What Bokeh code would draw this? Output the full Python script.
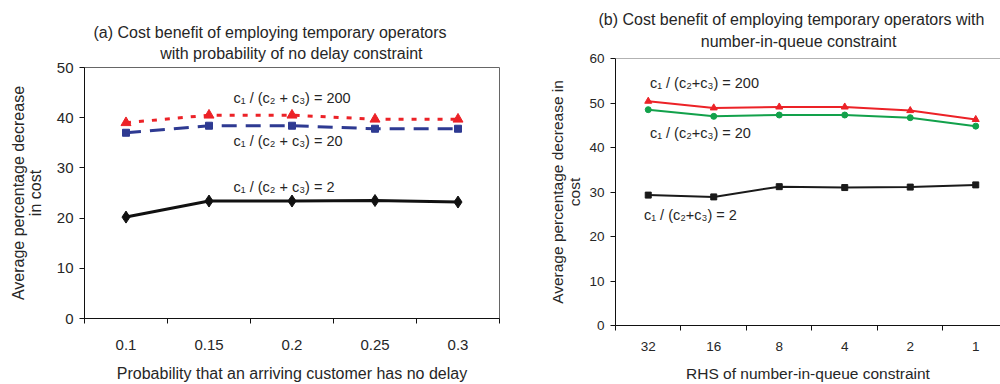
from bokeh.plotting import figure
from bokeh.models import FixedTicker, Range1d, Title, Span
from bokeh.layouts import row, column
from bokeh.core.properties import value
from bokeh.embed import file_html
from bokeh.resources import INLINE

FONT = "Liberation Sans"
TEXT = "#262626"
NBSP = "\u00a0"

# (a) probability of no delay constraint
prob_levels = ["0.1", "0.15", "0.2", "0.25", "0.3"]
a_ratio_200 = [39.0, 40.5, 40.5, 39.7, 39.7]
a_ratio_20 = [37.0, 38.4, 38.4, 37.8, 37.8]
a_ratio_2 = [20.2, 23.4, 23.4, 23.5, 23.2]
a_yticks = [0, 10, 20, 30, 40, 50]

# (b) number-in-queue constraint
rhs_levels = ["32", "16", "8", "4", "2", "1"]
b_ratio_200 = [50.4, 48.9, 49.1, 49.1, 48.3, 46.3]
b_ratio_20 = [48.5, 47.0, 47.3, 47.3, 46.7, 44.8]
b_ratio_2 = [29.3, 28.9, 31.2, 31.0, 31.1, 31.6]
b_yticks = [0, 10, 20, 30, 40, 50, 60]

RATIO_200 = "c\u2081 / (c\u2082 + c\u2083) = 200"
RATIO_20 = "c\u2081 / (c\u2082 + c\u2083) = 20"
RATIO_2 = "c\u2081 / (c\u2082 + c\u2083) = 2"
RATIO_200_B = "c\u2081 / (c\u2082+c\u2083) = 200"
RATIO_20_B = "c\u2081 / (c\u2082+c\u2083) = 20"
RATIO_2_B = "c\u2081 / (c\u2082+c\u2083) = 2"

TITLE_A = ("(a) Cost benefit of employing temporary operators\n"
           + NBSP * 15 + "with probability of no delay constraint")
TITLE_B = ("(b) Cost benefit of employing temporary operators with\n"
           + NBSP * 23 + "number-in-queue constraint")


def centers(levels):
    return [i + 0.5 for i in range(len(levels))]


def style_axes(p, levels, yticks, tick_size, label_size, x_label, y_label,
               x_standoff, x_label_standoff, y_label_standoff):
    xs = centers(levels)
    p.xaxis.ticker = FixedTicker(ticks=xs, minor_ticks=list(range(len(levels) + 1)))
    p.xaxis.major_label_overrides = {x: lab for x, lab in zip(xs, levels)}
    p.xaxis.major_tick_out = 0
    p.xaxis.major_tick_in = 0
    p.xaxis.minor_tick_out = 5
    p.xaxis.minor_tick_in = 0
    p.xaxis.major_label_standoff = x_standoff
    p.yaxis.ticker = FixedTicker(ticks=yticks, minor_ticks=[])
    p.yaxis.major_tick_out = 5
    p.yaxis.major_tick_in = 0
    p.yaxis.minor_tick_out = 0
    p.yaxis.major_label_standoff = 6
    for ax in (p.xaxis, p.yaxis):
        ax.axis_line_color = "#111111"
        ax.major_tick_line_color = "#111111"
        ax.minor_tick_line_color = "#111111"
        ax.major_label_text_font = FONT
        ax.major_label_text_font_size = tick_size
        ax.major_label_text_color = TEXT
        ax.axis_label_text_font = FONT
        ax.axis_label_text_font_style = "normal"
        ax.axis_label_text_font_size = label_size
        ax.axis_label_text_color = TEXT
    p.xaxis.axis_label = x_label
    p.xaxis.axis_label_standoff = x_label_standoff
    p.yaxis.axis_label = y_label
    p.yaxis.axis_label_standoff = y_label_standoff
    p.yaxis.axis_label_text_line_height = 1.0
    p.xgrid.visible = False
    p.ygrid.visible = False


def add_title(p, text, offset, gap):
    p.add_layout(Title(text=text, align="left", offset=offset,
                       text_font=FONT, text_font_size="16px",
                       text_font_style="normal", text_color=TEXT,
                       text_line_height=1.25, standoff=gap), "above")


def label(p, x, y, text, size):
    p.text(x=[x], y=[y], text=[text], text_font=value(FONT),
           text_font_size=size, text_color=TEXT,
           text_baseline="middle", text_align="left")


# ---------- (a) ----------
pa = figure(width=510, height=384, output_backend="svg", toolbar_location=None,
            x_range=Range1d(0, len(prob_levels)), y_range=Range1d(0, 50),
            min_border_left=84, min_border_right=11, min_border_top=67,
            min_border_bottom=66, background_fill_color="white",
            border_fill_color="white", outline_line_color="#666666")
style_axes(pa, prob_levels, a_yticks, "15px", "16px",
           "Probability that an arriving customer has no delay",
           "Average percentage decrease\nin cost", 16, 12, 10)
add_title(pa, TITLE_A, 9, 11)

xa = centers(prob_levels)
pa.line(xa, a_ratio_2, line_color="#111111", line_width=3)
pa.scatter(xa, a_ratio_2, marker="diamond", size=12, fill_color="#111111",
           line_color="#111111")
pa.line(xa, a_ratio_20, line_color="#2e3a92", line_width=3, line_dash="15 9")
pa.scatter(xa, a_ratio_20, marker="square", size=7, fill_color="#2e3a92",
           line_color="#2e3a92")
pa.line(xa, a_ratio_200, line_color="#ec2227", line_width=3, line_dash="5 8")
pa.scatter(xa, a_ratio_200, marker="triangle", size=10, fill_color="#ec2227",
           line_color="#ec2227")

label(pa, 1.795, 44.0, RATIO_200, "14.5px")
label(pa, 1.795, 35.4, RATIO_20, "14.5px")
label(pa, 1.795, 26.2, RATIO_2, "14.5px")

# ---------- (b) ----------
b_span = 5.878
pb = figure(width=490, height=384, output_backend="svg", toolbar_location=None,
            x_range=Range1d(0, b_span), y_range=Range1d(0, 60),
            min_border_left=105, min_border_right=0, min_border_top=56,
            min_border_bottom=58, background_fill_color="white",
            border_fill_color="white", outline_line_color=None)
style_axes(pb, rhs_levels, b_yticks, "13.5px", "15.5px",
           "RHS of number-in-queue constraint",
           "Average percentage decrease in\ncost", 11, 11, 3)
pb.add_layout(Span(location=60, dimension="width", line_color="#666666",
                   line_width=1))
add_title(pb, TITLE_B, -17, 18)

xb = centers(rhs_levels)
pb.line(xb, b_ratio_200, line_color="#ec2227", line_width=2)
pb.scatter(xb, b_ratio_200, marker="triangle", size=7, fill_color="#ec2227",
           line_color="#ec2227")
pb.line(xb, b_ratio_20, line_color="#12a14b", line_width=2)
pb.scatter(xb, b_ratio_20, marker="circle", size=6, fill_color="#12a14b",
           line_color="#12a14b")
pb.line(xb, b_ratio_2, line_color="#1a1a1a", line_width=2)
pb.scatter(xb, b_ratio_2, marker="square", size=6, fill_color="#1a1a1a",
           line_color="#1a1a1a")

label(pb, 0.525, 54.4, RATIO_200_B, "14.5px")
label(pb, 0.525, 43.2, RATIO_20_B, "14.5px")
label(pb, 0.434, 24.9, RATIO_2_B, "14.5px")

# each panel sits in its own column so the two frames are placed independently
layout = row(column(pa), column(pb))
open("out.html", "w").write(file_html(layout, INLINE))
